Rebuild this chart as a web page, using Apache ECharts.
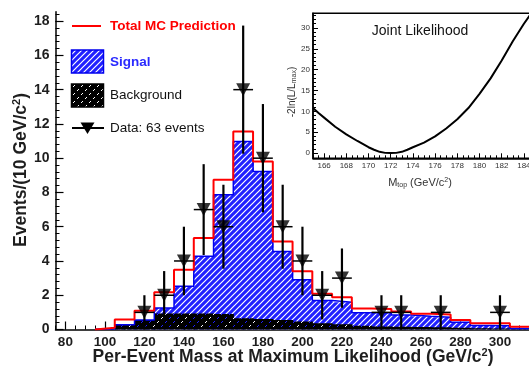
<!DOCTYPE html>
<html><head><meta charset="utf-8">
<script src="https://cdn.jsdelivr.net/npm/echarts@6/dist/echarts.min.js"></script>
<style>html,body{margin:0;padding:0;background:#fff}#c{width:529px;height:369px}</style>
</head><body><div id="c"></div>
<script>
// ---------- data ----------
const binCenters = [100,110,120,130,140,150,160,170,180,190,200,210,220,230,240,250,260,270,280,290,300,310];
const totalMC    = [0.10,0.58,1.10,2.17,3.49,5.34,8.74,11.55,9.80,5.14,3.40,2.08,1.88,1.22,1.20,1.05,0.92,0.88,0.55,0.36,0.36,0.16];
const signal     = [0.05,0.28,0.55,1.26,2.52,4.27,7.86,10.97,9.22,4.56,2.91,1.69,1.59,0.98,0.98,0.85,0.77,0.72,0.42,0.24,0.22,0.06];
const background = [0.05,0.30,0.55,0.94,0.94,0.93,0.90,0.66,0.62,0.55,0.47,0.36,0.30,0.22,0.18,0.16,0.15,0.13,0.10,0.08,0.06,0.04];
const dataMass   = [120,130,140,150,160,170,180,190,200,210,220,240,250,270,300];
const dataEvents = [1,2,4,7,6,14,10,6,4,2,3,1,1,1,1];
const dataErr    = [1,1.41,2,2.65,2.45,3.74,3.16,2.45,2,1.41,1.73,1,1,1,1];
const xTickLabels = [80,100,120,140,160,180,200,220,240,260,280,300];
const yTickLabels = [0,2,4,6,8,10,12,14,16,18];
const likeMass = [165,165.5,166,167,168,169,170,170.5,171,171.5,172,172.5,173,173.5,174,175,176,177,178,179,180,181,182,183,184,184.6];
const likeVal  = [10.8,9.6,8.5,6.3,4.5,2.9,1.4,0.8,0.3,0.05,0,0.05,0.3,0.8,1.4,2.5,4.0,5.9,8.1,10.8,14.2,17.9,22.2,26.8,31.0,33.3];
const insetXTickLabels = [166,168,170,172,174,176,178,180,182,184];
const insetYTickLabels = [0,5,10,15,20,25,30];
const binWidth = 10;

// ---------- helpers ----------
const FONT = 'Liberation Sans, Arial, Helvetica, sans-serif';
function range(a,b,s){const r=[];for(let v=a;v<=b+1e-9;v+=s)r.push(Math.round(v*1000)/1000);return r;}
function hatchCanvas(){
  const c=document.createElement('canvas');c.width=6;c.height=6;const g=c.getContext('2d');
  g.fillStyle='#2020ff';g.fillRect(0,0,6,6);
  g.strokeStyle='#ffffff';g.lineWidth=1.2;g.beginPath();
  g.moveTo(-1,7);g.lineTo(7,-1);g.moveTo(-4,4);g.lineTo(4,-4);g.moveTo(2,10);g.lineTo(10,2);g.stroke();
  return c;
}
function dotsCanvas(){
  const c=document.createElement('canvas');c.width=8;c.height=8;const g=c.getContext('2d');
  g.fillStyle='#000';g.fillRect(0,0,8,8);
  [[1,6],[2,5],[5,2],[6,1]].forEach(p=>g.clearRect(p[0],p[1],1,1));
  return c;
}
const hatchPat = {image: hatchCanvas(), repeat:'repeat'};
const dotsPat  = {image: dotsCanvas(), repeat:'repeat'};

function histFill(values, fill, z){
  return {type:'custom', xAxisIndex:0, yAxisIndex:0, z, silent:true, clip:true,
    data: binCenters.map((c,i)=>[c, values[i]]),
    renderItem(params, api){
      const c=api.value(0), v=api.value(1);
      const p0=api.coord([c-binWidth/2,0]), p1=api.coord([c+binWidth/2,v]);
      return {type:'rect', shape:{x:p0[0], y:p1[1], width:p1[0]-p0[0]+0.6, height:p0[1]-p1[1]}, style:{fill}};
    }};
}
function stepData(values){
  const pts=[[binCenters[0]-binWidth/2,0]];
  values.forEach((v,i)=>{pts.push([binCenters[i]-binWidth/2,v]);pts.push([binCenters[i]+binWidth/2,v]);});
  return pts;
}
function stepLine(values,color,w,z){
  return {type:'line', xAxisIndex:0, yAxisIndex:0, z, data:stepData(values), symbol:'none', silent:true,
    lineStyle:{color, width:w}, animation:false, clip:true};
}

const TXT = '#1e1e1e';

const option = {
  animation:false,
  textStyle:{fontFamily:FONT},
  grid:[
    {left:55.5, top:11.7, width:484, height:317.8, outerBoundsMode:'none'},
    {left:313, top:13.3, width:222, height:145, show:true, backgroundColor:'#fff', borderColor:'#000', borderWidth:1.5, z:5, outerBoundsMode:'none'}
  ],
  xAxis:[
    {type:'value', gridIndex:0, min:75, max:320, position:'bottom',
      axisLine:{onZero:false, lineStyle:{color:'#000', width:1.5}},
      axisTick:{inside:true, length:8, customValues:xTickLabels, lineStyle:{color:'#000', width:1.2}},
      axisLabel:{customValues:xTickLabels, margin:6, color:TXT, fontFamily:FONT, fontSize:13.5, fontWeight:'bold'},
      splitLine:{show:false}},
    {type:'value', gridIndex:0, min:75, max:320, position:'bottom',
      axisLine:{show:false, onZero:false},
      axisTick:{inside:true, length:4, customValues:range(75,320,5), lineStyle:{color:'#000', width:1}},
      axisLabel:{show:false}, splitLine:{show:false}},
    {type:'value', gridIndex:1, min:165, max:185, position:'bottom', z:6,
      axisLine:{onZero:false, lineStyle:{color:'#000', width:1.5}},
      axisTick:{inside:true, length:5, customValues:insetXTickLabels, lineStyle:{color:'#000'}},
      axisLabel:{customValues:insetXTickLabels, margin:3, color:'#333', fontSize:8, fontFamily:FONT},
      splitLine:{show:false}},
    {type:'value', gridIndex:1, min:165, max:185, position:'bottom', z:6,
      axisLine:{show:false, onZero:false},
      axisTick:{inside:true, length:3, customValues:range(165,185,0.5), lineStyle:{color:'#000'}},
      axisLabel:{show:false}, splitLine:{show:false}}
  ],
  yAxis:[
    {type:'value', gridIndex:0, min:0, max:18.55, position:'left',
      axisLine:{onZero:false, lineStyle:{color:'#000', width:1.5}},
      axisTick:{inside:true, length:8, customValues:yTickLabels, lineStyle:{color:'#000', width:1.2}},
      axisLabel:{customValues:yTickLabels, margin:6, color:TXT, fontFamily:FONT, fontSize:14, fontWeight:'bold'},
      splitLine:{show:false}},
    {type:'value', gridIndex:0, min:0, max:18.55, position:'left',
      axisLine:{show:false, onZero:false},
      axisTick:{inside:true, length:4, customValues:range(0,18.4,0.4), lineStyle:{color:'#000', width:1}},
      axisLabel:{show:false}, splitLine:{show:false}},
    {type:'value', gridIndex:1, min:-1.25, max:33.5, position:'left', z:6,
      axisLine:{onZero:false, lineStyle:{color:'#000', width:1.5}},
      axisTick:{inside:true, length:5, customValues:insetYTickLabels, lineStyle:{color:'#000'}},
      axisLabel:{customValues:insetYTickLabels, margin:3, color:'#333', fontSize:8, fontFamily:FONT},
      splitLine:{show:false}},
    {type:'value', gridIndex:1, min:-1.25, max:33.5, position:'left', z:6,
      axisLine:{show:false, onZero:false},
      axisTick:{inside:true, length:3, customValues:range(0,33,1), lineStyle:{color:'#000'}},
      axisLabel:{show:false}, splitLine:{show:false}}
  ],
  series:[
    histFill(signal, hatchPat, 1),
    histFill(background, dotsPat, 2),
    stepLine(signal, '#0000ee', 1.5, 3),
    stepLine(totalMC, '#ff0000', 2, 4),
    {type:'custom', xAxisIndex:0, yAxisIndex:0, z:5, silent:true,
      data: dataMass.map((m,i)=>[m, dataEvents[i], dataErr[i]]),
      renderItem(params, api){
        const c=api.value(0), v=api.value(1), e=api.value(2);
        const t=api.coord([c,v+e]), b=api.coord([c,Math.max(v-e,0)]);
        const l=api.coord([c-binWidth/2,v]), r=api.coord([c+binWidth/2,v]);
        return {type:'group', children:[
          {type:'line', shape:{x1:t[0],y1:t[1],x2:b[0],y2:b[1]}, style:{stroke:'#000', lineWidth:2.2}},
          {type:'line', shape:{x1:l[0],y1:l[1],x2:r[0],y2:r[1]}, style:{stroke:'#000', lineWidth:1.5}}
        ]};
      }},
    {type:'scatter', xAxisIndex:0, yAxisIndex:0, z:6, silent:true,
      data: dataMass.map((m,i)=>[m, dataEvents[i]]),
      symbol:'triangle', symbolRotate:180, symbolSize:[14,13], itemStyle:{color:'#000'}},
    {type:'line', xAxisIndex:2, yAxisIndex:2, z:7, silent:true, symbol:'none',
      data: likeMass.map((m,i)=>[m, likeVal[i]]), lineStyle:{color:'#000', width:2}, clip:true}
  ],
  graphic:[
    // axis titles
    {type:'text', x:293, y:357, z:10, style:{text:'Per-Event Mass at Maximum Likelihood (GeV/c{sup|2})',
      font:'bold 17.5px '+FONT, fill:TXT, align:'center', verticalAlign:'middle',
      rich:{sup:{fontSize:11, fontWeight:'bold', fontFamily:FONT, fill:TXT, verticalAlign:'top', padding:[0,0,8,0]}}}},
    {type:'text', x:21, y:170, rotation:Math.PI/2, z:10, style:{text:'Events/(10 GeV/c{sup|2})',
      font:'bold 17.5px '+FONT, fill:TXT, align:'center', verticalAlign:'middle',
      rich:{sup:{fontSize:11, fontWeight:'bold', fontFamily:FONT, fill:TXT, verticalAlign:'top', padding:[0,0,8,0]}}}},
    // legend
    {type:'line', shape:{x1:72,y1:26,x2:101,y2:26}, z:10, style:{stroke:'#ff0000', lineWidth:2}},
    {type:'text', x:110, y:26, z:10, style:{text:'Total MC Prediction', font:'bold 13.5px '+FONT, fill:'#ff0000', verticalAlign:'middle'}},
    {type:'rect', shape:{x:71.5,y:50,width:32,height:23}, z:10, style:{fill:hatchPat, stroke:'#0000ee', lineWidth:1.5}},
    {type:'text', x:110, y:62, z:10, style:{text:'Signal', font:'bold 13.5px '+FONT, fill:'#2a2aff', verticalAlign:'middle'}},
    {type:'rect', shape:{x:71.5,y:84,width:32,height:23}, z:10, style:{fill:dotsPat, stroke:'#000', lineWidth:1.5}},
    {type:'text', x:110, y:95, z:10, style:{text:'Background', font:'13.5px '+FONT, fill:'#111', verticalAlign:'middle'}},
    {type:'line', shape:{x1:72,y1:128,x2:104,y2:128}, z:10, style:{stroke:'#000', lineWidth:2}},
    {type:'polygon', shape:{points:[[80.5,122.5],[94.5,122.5],[87.5,134]]}, z:10, style:{fill:'#000'}},
    {type:'text', x:110, y:128, z:10, style:{text:'Data: 63 events', font:'13.5px '+FONT, fill:'#111', verticalAlign:'middle'}},
    // inset texts
    {type:'text', x:420, y:31, z:10, style:{text:'Joint Likelihood', font:'14px '+FONT, fill:'#111', align:'center', verticalAlign:'middle'}},
    {type:'text', x:292, y:92, rotation:Math.PI/2, z:10, style:{text:'-2ln(L/L{sub|max})',
      font:'10px '+FONT, fill:'#333', align:'center', verticalAlign:'middle',
      rich:{sub:{fontSize:7, fontFamily:FONT, fill:'#333', verticalAlign:'bottom', padding:[5,0,0,0]}}}},
    {type:'text', x:420, y:183, z:10, style:{text:'M{sub|top} (GeV/c{sup|2})',
      font:'11px '+FONT, fill:'#333', align:'center', verticalAlign:'middle',
      rich:{sub:{fontSize:7, fontFamily:FONT, fill:'#333', verticalAlign:'bottom', padding:[5,0,0,0]},
            sup:{fontSize:7, fontFamily:FONT, fill:'#333', verticalAlign:'top', padding:[0,0,5,0]}}}}
  ]
};
const chart = echarts.init(document.getElementById('c'), null, {renderer:'canvas'});
chart.setOption(option);
</script>
</body></html>
